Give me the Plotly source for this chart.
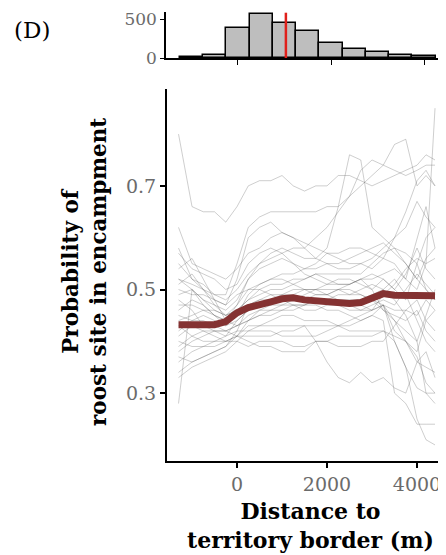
import plotly.graph_objects as go

# ---------------- data ----------------
distance = [-1300, -1000, -750, -500, -250, 0, 250, 500, 750, 1000, 1250, 1500,
            1750, 2000, 2250, 2500, 2750, 3000, 3250, 3500, 3750, 4000, 4200, 4400]

individual_lines = [
    [0.80,0.66,0.65,0.65,0.63,0.66,0.70,0.71,0.71,0.72,0.70,0.69,0.70,0.70,0.72,0.72,0.71,0.70,0.71,0.72,0.73,0.74,0.76,0.75],
    [0.55,0.52,0.51,0.49,0.49,0.55,0.62,0.64,0.65,0.65,0.65,0.65,0.65,0.66,0.66,0.68,0.70,0.72,0.74,0.73,0.72,0.73,0.74,0.74],
    [0.52,0.51,0.50,0.48,0.47,0.52,0.60,0.62,0.63,0.61,0.60,0.58,0.56,0.58,0.66,0.76,0.75,0.62,0.60,0.58,0.57,0.55,0.60,0.62],
    [0.49,0.50,0.48,0.47,0.46,0.48,0.52,0.55,0.56,0.57,0.58,0.58,0.60,0.62,0.65,0.68,0.73,0.75,0.74,0.78,0.79,0.70,0.72,0.70],
    [0.57,0.54,0.53,0.52,0.50,0.51,0.55,0.57,0.58,0.57,0.55,0.54,0.55,0.57,0.56,0.55,0.55,0.54,0.56,0.55,0.52,0.60,0.66,0.58],
    [0.46,0.48,0.47,0.45,0.44,0.47,0.52,0.54,0.55,0.56,0.55,0.53,0.52,0.51,0.52,0.52,0.51,0.50,0.52,0.50,0.48,0.55,0.50,0.48],
    [0.44,0.45,0.46,0.46,0.45,0.46,0.48,0.50,0.51,0.51,0.52,0.52,0.53,0.52,0.51,0.51,0.52,0.53,0.52,0.50,0.53,0.58,0.54,0.52],
    [0.41,0.43,0.42,0.42,0.41,0.44,0.46,0.47,0.48,0.49,0.50,0.50,0.49,0.49,0.50,0.51,0.52,0.50,0.46,0.45,0.44,0.46,0.42,0.40],
    [0.38,0.40,0.41,0.42,0.42,0.43,0.44,0.45,0.46,0.46,0.46,0.47,0.47,0.46,0.46,0.45,0.44,0.45,0.47,0.42,0.40,0.37,0.32,0.30],
    [0.36,0.38,0.39,0.39,0.40,0.41,0.43,0.43,0.44,0.45,0.45,0.44,0.44,0.44,0.43,0.43,0.44,0.45,0.44,0.30,0.28,0.24,0.24,0.24],
    [0.34,0.36,0.37,0.38,0.39,0.41,0.41,0.41,0.41,0.42,0.42,0.43,0.43,0.43,0.43,0.42,0.42,0.42,0.42,0.40,0.35,0.25,0.21,0.20],
    [0.40,0.39,0.39,0.40,0.41,0.42,0.42,0.43,0.43,0.43,0.43,0.43,0.40,0.36,0.33,0.32,0.34,0.32,0.33,0.31,0.30,0.36,0.38,0.33],
    [0.43,0.41,0.40,0.40,0.40,0.40,0.39,0.40,0.40,0.40,0.39,0.39,0.40,0.40,0.41,0.41,0.41,0.41,0.42,0.41,0.40,0.36,0.35,0.34],
    [0.48,0.46,0.43,0.42,0.42,0.41,0.40,0.39,0.39,0.38,0.38,0.38,0.40,0.40,0.39,0.39,0.39,0.40,0.40,0.43,0.46,0.45,0.48,0.46],
    [0.54,0.56,0.52,0.48,0.44,0.43,0.44,0.45,0.45,0.46,0.47,0.47,0.48,0.48,0.48,0.47,0.47,0.46,0.49,0.51,0.54,0.56,0.55,0.56],
    [0.28,0.50,0.48,0.46,0.45,0.47,0.50,0.51,0.52,0.53,0.53,0.54,0.54,0.55,0.54,0.54,0.55,0.56,0.58,0.60,0.62,0.67,0.64,0.62],
    [0.62,0.55,0.54,0.53,0.52,0.54,0.57,0.58,0.60,0.61,0.60,0.59,0.58,0.57,0.57,0.58,0.58,0.57,0.56,0.60,0.65,0.71,0.73,0.70],
    [0.50,0.49,0.49,0.48,0.47,0.49,0.50,0.50,0.49,0.48,0.47,0.47,0.48,0.48,0.47,0.46,0.46,0.46,0.47,0.46,0.46,0.48,0.44,0.42],
    [0.37,0.36,0.37,0.38,0.39,0.42,0.47,0.48,0.48,0.48,0.48,0.49,0.50,0.50,0.50,0.49,0.49,0.48,0.47,0.44,0.40,0.38,0.44,0.46],
    [0.58,0.52,0.50,0.47,0.45,0.46,0.48,0.49,0.50,0.50,0.51,0.52,0.53,0.53,0.53,0.53,0.53,0.55,0.57,0.58,0.55,0.52,0.50,0.48],
    [0.45,0.44,0.44,0.43,0.42,0.43,0.45,0.46,0.46,0.47,0.48,0.48,0.48,0.48,0.49,0.49,0.50,0.51,0.50,0.48,0.45,0.40,0.30,0.28],
    [0.52,0.50,0.47,0.45,0.43,0.44,0.46,0.47,0.47,0.48,0.48,0.48,0.49,0.49,0.50,0.50,0.49,0.48,0.46,0.44,0.42,0.40,0.45,0.50],
    [0.47,0.47,0.46,0.45,0.44,0.45,0.47,0.48,0.49,0.49,0.49,0.50,0.50,0.51,0.51,0.51,0.52,0.52,0.53,0.54,0.52,0.50,0.55,0.85],
    [0.33,0.35,0.36,0.37,0.38,0.40,0.42,0.42,0.42,0.41,0.41,0.41,0.41,0.42,0.43,0.44,0.45,0.46,0.47,0.40,0.35,0.31,0.30,0.30],
    [0.51,0.53,0.50,0.49,0.48,0.50,0.53,0.55,0.57,0.58,0.57,0.56,0.56,0.55,0.55,0.56,0.57,0.58,0.59,0.57,0.55,0.52,0.56,0.58],
    [0.42,0.44,0.45,0.44,0.43,0.45,0.49,0.51,0.52,0.52,0.51,0.50,0.50,0.49,0.48,0.48,0.48,0.49,0.50,0.52,0.49,0.44,0.40,0.38],
    [0.39,0.41,0.42,0.41,0.40,0.41,0.44,0.46,0.47,0.47,0.47,0.46,0.46,0.47,0.47,0.47,0.46,0.47,0.48,0.47,0.50,0.53,0.51,0.49],
]

mean_line = [0.432,0.432,0.432,0.432,0.438,0.455,0.465,0.472,0.476,0.482,0.484,0.480,
             0.478,0.477,0.476,0.473,0.475,0.484,0.492,0.489,0.488,0.488,0.488,0.488]

hist_bin_centers = [-1000, -500, 0, 500, 1000, 1500, 2000, 2500, 3000, 3500, 4000]
hist_counts = [15, 35, 391, 565, 448, 353, 198, 116, 81, 39, 26]
median_distance = 1030

x_ticks = [0, 2000, 4000]
x_tick_labels = ["0", "2000", "4000"]
y_ticks = [0.3, 0.5, 0.7]
y_tick_labels = ["0.3", "0.5", "0.7"]
hist_y_ticks = [0, 500]
hist_y_tick_labels = ["0", "500"]

# ---------------- figure ----------------
# the page body has an 8px default margin, so the figure is offset by 8px
OFF = 8
W, H = 446 - OFF, 555 - OFF
SERIF = "DejaVu Serif"
TICK_COLOR = "#6b6b6b"

fig = go.Figure()

# histogram (top)
fig.add_trace(go.Bar(
    x=hist_bin_centers, y=hist_counts, width=500,
    marker=dict(color="#BEBEBE", line=dict(color="black", width=1.5)),
    xaxis="x2", yaxis="y2", showlegend=False, hoverinfo="skip"))
fig.add_trace(go.Scatter(
    x=[median_distance, median_distance], y=[0, 585], mode="lines",
    line=dict(color="#E0201B", width=2.5),
    xaxis="x2", yaxis="y2", showlegend=False, hoverinfo="skip"))

# individual lines
for ys in individual_lines:
    fig.add_trace(go.Scatter(
        x=distance, y=ys, mode="lines",
        line=dict(color="rgba(80,80,80,0.28)", width=1),
        showlegend=False, hoverinfo="skip"))

# mean line
fig.add_trace(go.Scatter(
    x=distance, y=mean_line, mode="lines",
    line=dict(color="#843232", width=7),
    showlegend=False, hoverinfo="skip"))

def px_x(p):
    return (p - OFF) / W

def px_y(p):
    return 1 - (p - OFF) / H

# main x axis: px 167 .. 446 (page) ; 2000 m = 90 px, 0 at px 237
fig.update_layout(
    width=W, height=H,
    margin=dict(l=0, r=0, t=0, b=0),
    paper_bgcolor="white", plot_bgcolor="white",
    font=dict(family=SERIF, color="black"),
    bargap=0,
    xaxis=dict(
        domain=[px_x(167), 1.0], range=[-1556, 4644], automargin=False,
        showgrid=False, zeroline=False, showline=True, linecolor="black", linewidth=2,
        ticks="outside", ticklen=5, tickwidth=1.5, tickcolor="black",
        tickvals=x_ticks, ticktext=x_tick_labels,
        tickfont=dict(family=SERIF, size=19, color=TICK_COLOR),
        anchor="y"),
    yaxis=dict(
        domain=[px_y(461), px_y(89)], range=[0.169, 0.887], automargin=False,
        showgrid=False, zeroline=False, showline=True, linecolor="black", linewidth=2,
        ticks="outside", ticklen=5, tickwidth=1.5, tickcolor="black",
        tickvals=y_ticks, ticktext=y_tick_labels,
        tickfont=dict(family=SERIF, size=19, color=TICK_COLOR),
        anchor="x"),
    xaxis2=dict(
        domain=[px_x(166), 1.0], range=[-1548, 4473], automargin=False,
        showgrid=False, zeroline=False, showline=True, linecolor="black", linewidth=1.5,
        ticks="outside", ticklen=5, tickwidth=1.2, tickcolor="black",
        tickvals=x_ticks, showticklabels=False,
        anchor="y2"),
    yaxis2=dict(
        domain=[px_y(58), px_y(12)], range=[0, 594], automargin=False,
        showgrid=False, zeroline=False, showline=True, linecolor="black", linewidth=1.5,
        ticks="outside", ticklen=4, tickwidth=1.2, tickcolor="black",
        tickvals=hist_y_ticks, ticktext=hist_y_tick_labels,
        tickfont=dict(family=SERIF, size=17, color=TICK_COLOR),
        anchor="x2"),
    annotations=[
        dict(text="(D)", x=px_x(32), y=px_y(30), xref="paper", yref="paper",
             showarrow=False, font=dict(family=SERIF, size=23, color="black"),
             xanchor="center", yanchor="middle"),
        dict(text="<b>Probability of<br>roost site in encampment</b>",
             x=px_x(84), y=px_y(272), xref="paper", yref="paper", textangle=-90,
             showarrow=False, font=dict(family=SERIF, size=21.5, color="black"),
             xanchor="center", yanchor="middle"),
        dict(text="<b>Distance to<br>territory border (m)</b>",
             x=px_x(310), y=px_y(525), xref="paper", yref="paper",
             showarrow=False, font=dict(family=SERIF, size=22, color="black"),
             xanchor="center", yanchor="middle"),
    ],
)

fig.write_html("out.html")
